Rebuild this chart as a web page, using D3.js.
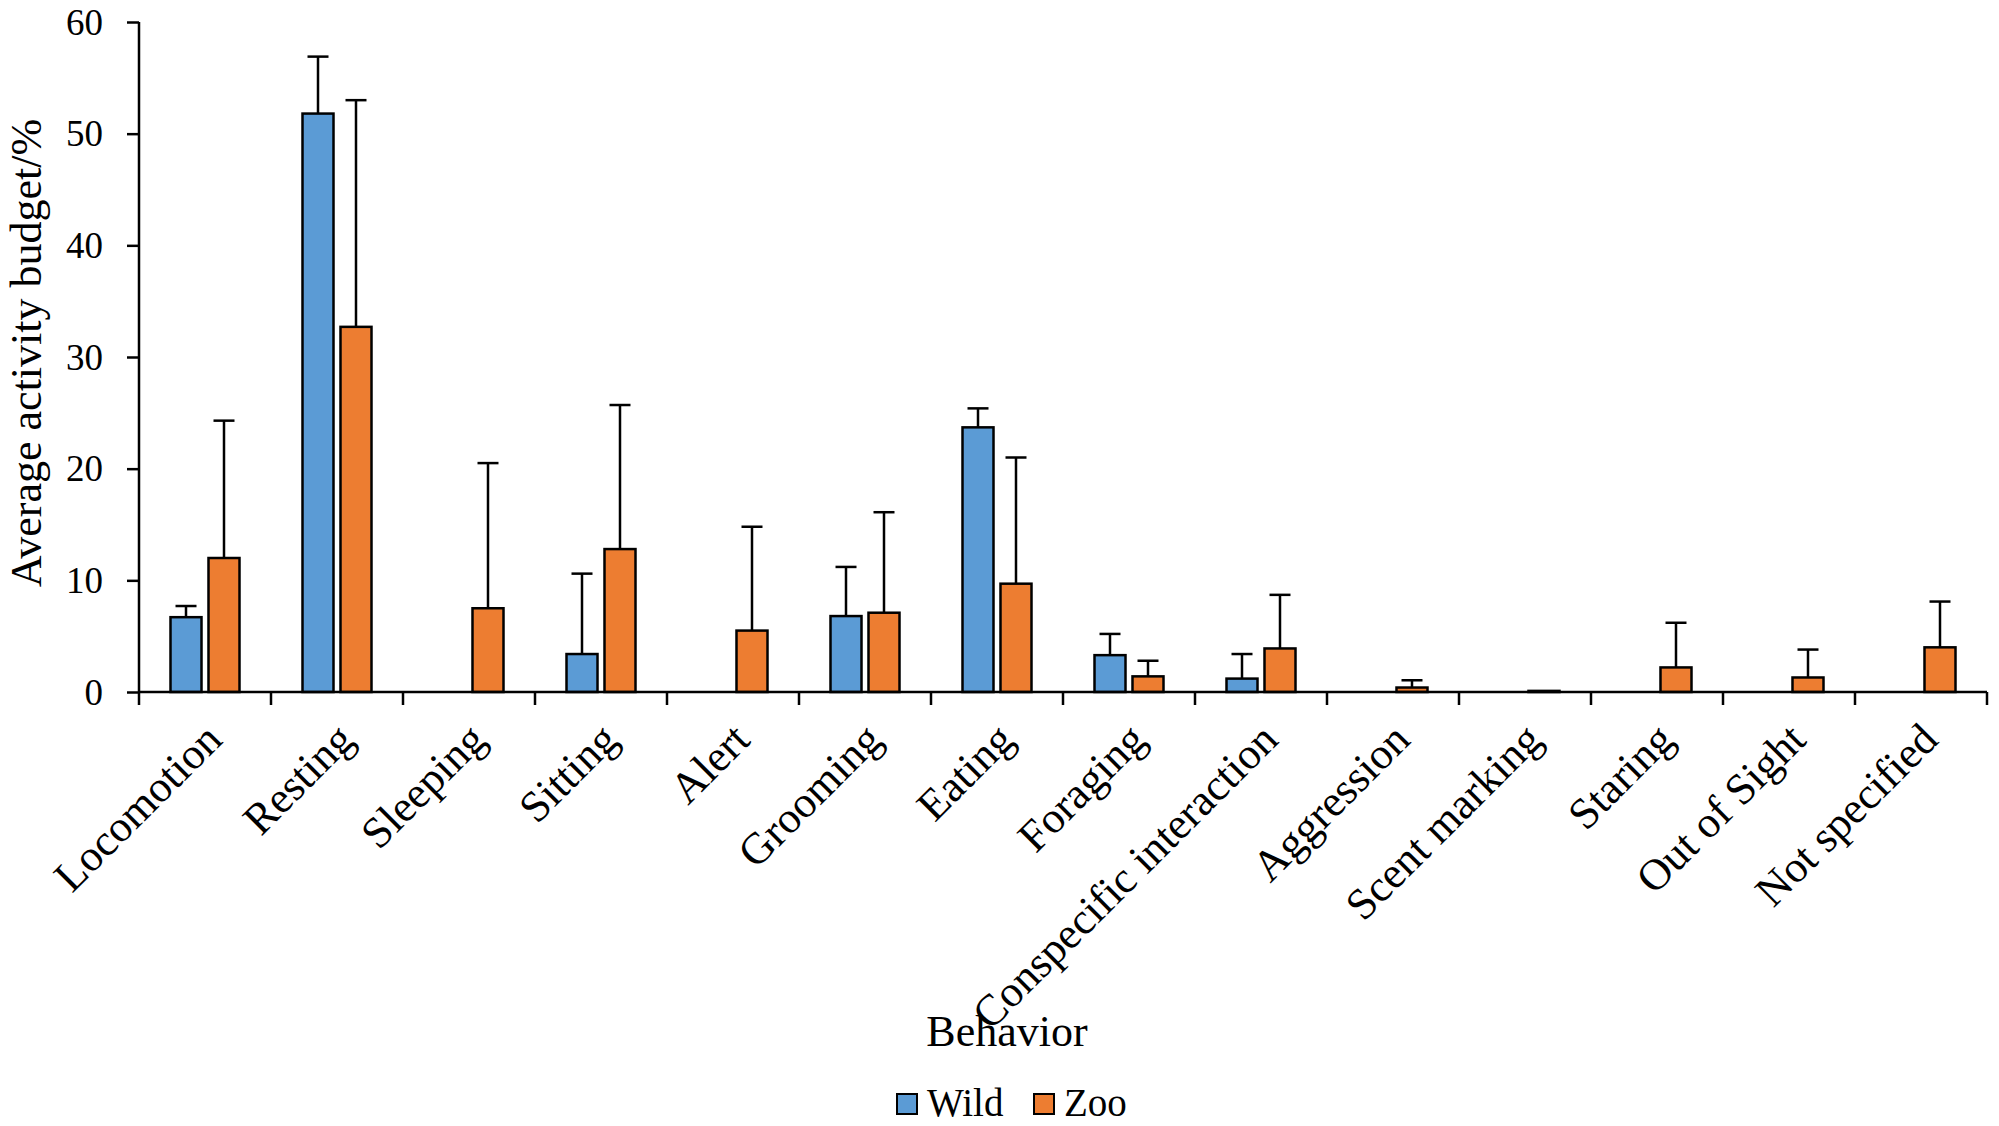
<!DOCTYPE html>
<html>
<head>
<meta charset="utf-8">
<script src="https://cdn.jsdelivr.net/npm/d3@7/dist/d3.min.js"></script>
<style>
  html, body { margin: 0; padding: 0; background: #fff; }
  svg { display: block; }
  text { font-family: "Liberation Serif", "Times New Roman", serif; fill: #000; }
</style>
</head>
<body>
<script>
// ---- data ----
const categories = ["Locomotion","Resting","Sleeping","Sitting","Alert","Grooming","Eating","Foraging","Conspecific interaction","Aggression","Scent marking","Staring","Out of Sight","Not specified"];
const seriesNames = ["Wild","Zoo"];
const wildValues = [6.7, 51.8, 0, 3.4, 0, 6.8, 23.7, 3.3, 1.2, 0, 0, 0, 0, 0];
const wildErrors = [1.0, 5.1, 0, 7.2, 0, 4.4, 1.7, 1.9, 2.2, 0, 0, 0, 0, 0];
const zooValues = [12.0, 32.7, 7.5, 12.8, 5.5, 7.1, 9.7, 1.4, 3.9, 0.4, 0.1, 2.2, 1.3, 4.0];
const zooErrors = [12.3, 20.3, 13.0, 12.9, 9.3, 9.0, 11.3, 1.4, 4.8, 0.65, 0, 4.0, 2.5, 4.1];
const yTicks = [0, 10, 20, 30, 40, 50, 60];
const colors = {Wild: "#5B9BD5", Zoo: "#ED7D31"};

(function () {
const W = 1999, H = 1126;
const pLeft = 139, pRight = 1987, pTop = 22, pBottom = 692;

const svg = d3.select("body").append("svg").attr("width", W).attr("height", H);

const x = d3.scaleBand().domain(categories).range([pLeft, pRight]).paddingInner(0).paddingOuter(0);
const bw = x.bandwidth();
const x1 = d3.scaleBand().domain(seriesNames).range([bw/2 - 34.5, bw/2 + 34.5]).paddingInner(0.184).paddingOuter(0);
const y = d3.scaleLinear().domain([0, 60]).range([pBottom, pTop]);

const rows = categories.map((c, i) => ({
  cat: c,
  items: [
    {s: "Wild", v: wildValues[i], e: wildErrors[i]},
    {s: "Zoo", v: zooValues[i], e: zooErrors[i]}
  ]
}));

// bars
const g = svg.append("g");
const groups = g.selectAll("g.cat").data(rows).join("g").attr("class", "cat")
  .attr("transform", d => `translate(${x(d.cat)},0)`);

groups.selectAll("rect").data(d => d.items.filter(it => it.v > 0)).join("rect")
  .attr("x", d => x1(d.s))
  .attr("y", d => y(d.v))
  .attr("width", x1.bandwidth())
  .attr("height", d => y(0) - y(d.v))
  .attr("fill", d => colors[d.s])
  .attr("stroke", "#000")
  .attr("stroke-width", 2.5);

// error bars
const eb = groups.selectAll("g.err").data(d => d.items.filter(it => it.v > 0 && it.e > 0)).join("g").attr("class", "err");
eb.append("line")
  .attr("x1", d => x1(d.s) + x1.bandwidth()/2)
  .attr("x2", d => x1(d.s) + x1.bandwidth()/2)
  .attr("y1", d => y(d.v))
  .attr("y2", d => y(d.v + d.e))
  .attr("stroke", "#000").attr("stroke-width", 2.5);
eb.append("line")
  .attr("x1", d => x1(d.s) + x1.bandwidth()/2 - 10.5)
  .attr("x2", d => x1(d.s) + x1.bandwidth()/2 + 10.5)
  .attr("y1", d => y(d.v + d.e))
  .attr("y2", d => y(d.v + d.e))
  .attr("stroke", "#000").attr("stroke-width", 2.5);

// y axis
const yAxis = d3.axisLeft(y).tickValues(yTicks).tickSize(12).tickPadding(24).tickFormat(d3.format("d"));
const ya = svg.append("g").attr("transform", `translate(${pLeft},0)`).call(yAxis);
ya.select(".domain").attr("stroke", "#000").attr("stroke-width", 2.5).attr("d", `M0,${pTop}V${pBottom}`);
ya.selectAll(".tick line").attr("stroke", "#000").attr("stroke-width", 2.5);
ya.selectAll(".tick text").style("font-family", "'Liberation Serif', serif").style("font-size", "37px").attr("dy", "0.33em");

// x axis line and boundary ticks
const boundaries = categories.map(c => x(c)).concat([x.range()[1]]);
const xa = svg.append("g");
xa.append("line").attr("x1", pLeft).attr("x2", pRight).attr("y1", y(0)).attr("y2", y(0))
  .attr("stroke", "#000").attr("stroke-width", 2.5);
xa.selectAll("line.tk").data(boundaries).join("line").attr("class", "tk")
  .attr("x1", d => d).attr("x2", d => d).attr("y1", y(0)).attr("y2", y(0) + 13)
  .attr("stroke", "#000").attr("stroke-width", 2.5);

// x category labels
xa.selectAll("text.cl").data(categories).join("text").attr("class", "cl")
  .attr("transform", d => `translate(${x(d) + bw/2 + 19},${y(0) + 50}) rotate(-45)`)
  .attr("text-anchor", "end")
  .style("font-size", "44px")
  .text(d => d);

// axis titles
svg.append("text")
  .attr("transform", `translate(41,${(pTop + pBottom)/2 - 4}) rotate(-90)`)
  .attr("text-anchor", "middle")
  .style("font-size", "44px")
  .text("Average activity budget/%");

svg.append("text")
  .attr("x", 1007).attr("y", 1046)
  .attr("text-anchor", "middle")
  .style("font-size", "44px")
  .text("Behavior");

// legend
const legendX = [897, 1034];
const lg = svg.append("g").selectAll("g").data(seriesNames).join("g")
  .attr("transform", (d, i) => `translate(${legendX[i]},1094)`);
lg.append("rect").attr("width", 20).attr("height", 20)
  .attr("fill", d => colors[d]).attr("stroke", "#000").attr("stroke-width", 2);
lg.append("text").attr("x", 30).attr("y", 22).style("font-size", "39px").text(d => d);
})();
</script>
</body>
</html>
